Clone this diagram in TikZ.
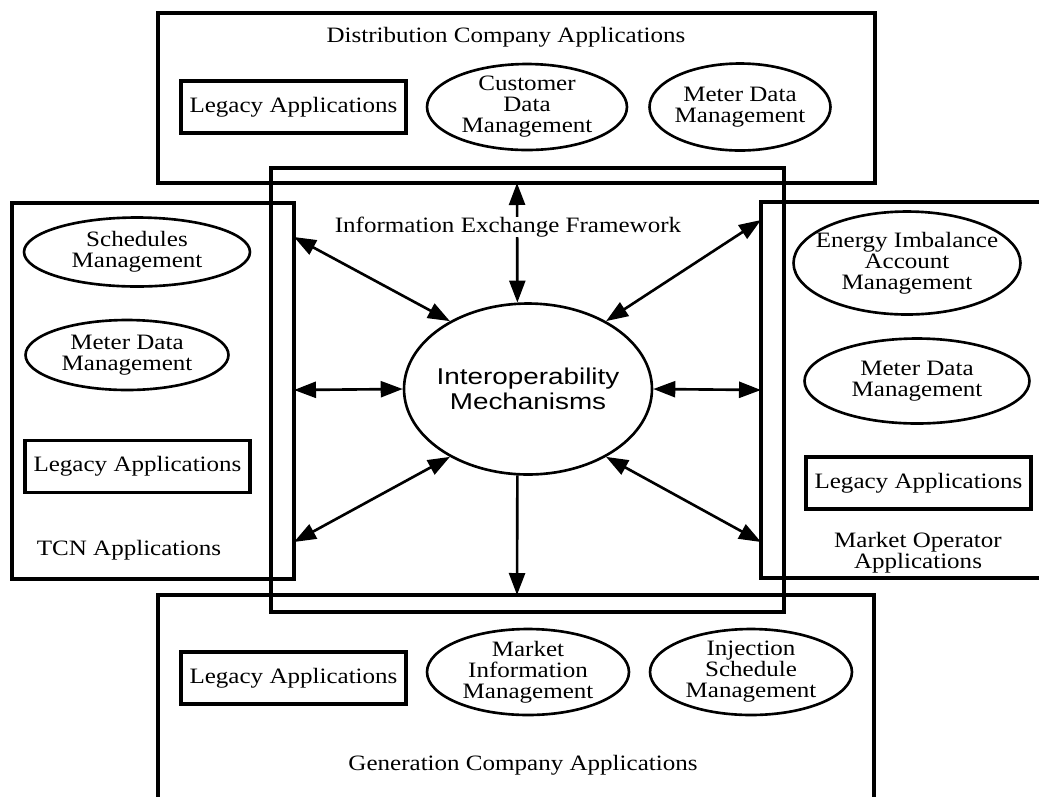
\documentclass[tikz,border=0pt]{standalone}
\usepackage{fontspec}
\setmainfont{Liberation Serif}[FakeStretch=1.14]
\newfontfamily\mechfont{Liberation Sans}[FakeStretch=1.22]
\usetikzlibrary{shapes.geometric,arrows.meta}
\pgfdeclarelayer{bg}
\pgfsetlayers{bg,main}
\tikzset{
    every node/.style={inner sep=0mm, font=\fontsize{12.5}{12}\selectfont}
}
\tikzset{every label/.style={align=center, draw=none, inner sep=0mm, font=\fontsize{12.5}{12}\selectfont}}
\tikzset{
    appbox/.style={rectangle, draw, line width=2pt},
    legacy/.style={rectangle, draw, line width=2pt, minimum width=4.5cm, minimum height=1.04cm},
    app/.style={ellipse, draw, line width=1.5pt},
    biarrow/.style={line width=1.5pt, {Triangle[length=4.4mm, width=3.2mm]}-{Triangle[length=4.4mm, width=3.2mm]}},
    onearrow/.style={line width=1.5pt, -{Triangle[length=4.4mm, width=3.2mm]}}
}

\begin{document}
\begin{tikzpicture}[x=0.02cm, y=-0.02cm]
    \useasboundingbox (0,0) rectangle (1039,796);

    \node (dist) [appbox, minimum width=14.34cm, minimum height=3.4cm] at (516.5, 98) {};
    \node (tcn) [appbox, minimum width=5.64cm, minimum height=7.52cm] at (153, 391) {};
    \node (mo) [appbox, minimum width=5.78cm, minimum height=7.52cm] at (905.5, 390) {};
    \node (gen) [appbox, minimum width=14.32cm, minimum height=4.4cm] at (516, 705) {};
    \node (ief) [appbox, minimum width=10.26cm, minimum height=8.88cm] at (527.5, 390) {};

    \node (distT) at (506, 37) {Distribution Company Applications};
    \node (tcnT) at (129, 550) {TCN Applications};
    \node (moT) [align=center] at (918, 553) {Market Operator\\Applications};
    \node (genT) at (523, 765) {Generation Company Applications};
    \node (iefT) [fill=white] at (508, 227) {Information Exchange Framework};

    \node (distL) [legacy] at (293.5, 107) {Legacy Applications};
    \node (cdm) [app, minimum width=4cm, minimum height=1.72cm, label={center:{Customer\\Data\\Management}}] at (527, 107) {};
    \node (distM) [app, minimum width=3.62cm, minimum height=1.74cm, label={center:{Meter Data\\Management}}] at (740, 107) {};

    \node (sched) [app, minimum width=4.52cm, minimum height=1.38cm, label={center:{Schedules\\Management}}] at (137, 252) {};
    \node (tcnM) [app, minimum width=4.06cm, minimum height=1.4cm, label={center:{Meter Data\\Management}}] at (127, 355) {};
    \node (tcnL) [legacy] at (137.5, 466.5) {Legacy Applications};

    \node (eiam) [app, minimum width=4.54cm, minimum height=2.06cm, label={center:{Energy Imbalance\\Account\\Management}}] at (907, 263) {};
    \node (moM) [app, minimum width=4.5cm, minimum height=1.7cm, label={center:{Meter Data\\Management}}] at (917, 381) {};
    \node (moL) [legacy] at (918.5, 483) {Legacy Applications};

    \node (genL) [legacy] at (293.5, 678) {Legacy Applications};
    \node (mim) [app, minimum width=4.04cm, minimum height=1.72cm, label={center:{Market\\Information\\Management}}] at (528, 672) {};
    \node (ism) [app, minimum width=4.04cm, minimum height=1.72cm, label={center:{Injection\\Schedule\\Management}}] at (751, 672) {};

    \node (mech) [app, minimum width=4.96cm, minimum height=3.42cm, label={[font=\mechfont\fontsize{13}{14}\selectfont]center:{Interoperability\\Mechanisms}}] at (528, 389) {};

    \coordinate (tcnA) at (294, 237);
    \coordinate (tcnB) at (294, 390);
    \coordinate (tcnC) at (294, 542);
    \coordinate (moA) at (761, 220);
    \coordinate (moB) at (761, 390);
    \coordinate (moC) at (761, 542);
    \coordinate (distA) at (517, 183);
    \coordinate (genA) at (517, 595);

    \begin{pgfonlayer}{bg}
        \draw [biarrow] (mech.97) -- (distA);
        \draw [onearrow] (mech.263) -- (genA);
        \draw [biarrow] (mech.139) -- (tcnA);
        \draw [biarrow] (mech.west) -- (tcnB);
        \draw [biarrow] (mech.221) -- (tcnC);
        \draw [biarrow] (mech.41) -- (moA);
        \draw [biarrow] (mech.east) -- (moB);
        \draw [biarrow] (mech.319) -- (moC);
    \end{pgfonlayer}
\end{tikzpicture}
\end{document}
